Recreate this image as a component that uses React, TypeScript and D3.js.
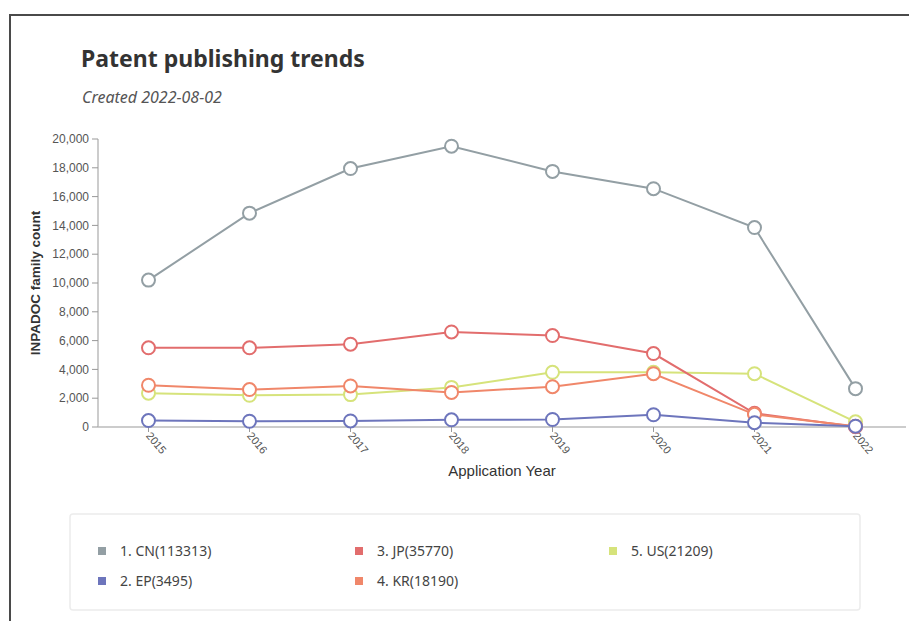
import React from "react";
import * as d3 from "d3";

const years = ["2015", "2016", "2017", "2018", "2019", "2020", "2021", "2022"];
const cnValues = [10200, 14850, 17950, 19500, 17750, 16550, 13850, 2663];
const epValues = [450, 400, 420, 500, 520, 850, 300, 55];
const jpValues = [5500, 5500, 5750, 6600, 6350, 5100, 950, 20];
const krValues = [2900, 2600, 2850, 2400, 2800, 3700, 880, 60];
const usValues = [2350, 2200, 2250, 2750, 3800, 3800, 3700, 359];
const seriesNames = ["CN", "EP", "JP", "KR", "US"];
const seriesLabels = ["1. CN(113313)", "2. EP(3495)", "3. JP(35770)", "4. KR(18190)", "5. US(21209)"];
const seriesColors = ["#939fa4", "#6d75bc", "#e26d6d", "#f0876a", "#d6e37b"];
const yTicks = [0, 2000, 4000, 6000, 8000, 10000, 12000, 14000, 16000, 18000, 20000];

const W = 909;
const H = 621;

export default function App() {
  const x = d3.scaleBand<string>().domain(years).range([98, 906]);
  const y = d3.scaleLinear().domain([0, 20000]).range([427, 139]);
  const cx = (yr: string) => (x(yr) as number) + x.bandwidth() / 2;
  const fmt = d3.format(",");
  const valuesByName: Record<string, number[]> = {
    CN: cnValues,
    EP: epValues,
    JP: jpValues,
    KR: krValues,
    US: usValues,
  };
  const drawOrder = ["CN", "US", "JP", "KR", "EP"];
  const line = d3
    .line<number>()
    .x((_, i) => cx(years[i]))
    .y((d) => y(d));

  const legendPos = [
    { x: 98, y: 551 },
    { x: 98, y: 581 },
    { x: 355, y: 551 },
    { x: 355, y: 581 },
    { x: 609, y: 551 },
  ];

  return (
    <svg
      width={W}
      height={H}
      style={{ position: "absolute", left: 0, top: 0, background: "#fff" }}
    >
      <rect x={0} y={0} width={W} height={H} fill="#fff" />
      <path d={`M10,${H} L10,15 L${W},15`} fill="none" stroke="#4a4a4a" strokeWidth={2} />

      <text
        x={81}
        y={67}
        fontFamily="'Noto Sans', sans-serif"
        fontWeight={700}
        fontSize={23}
        fill="#333"
      >
        Patent publishing trends
      </text>
      <text
        x={82}
        y={103}
        fontFamily="'Noto Sans', sans-serif"
        fontStyle="italic"
        fontSize={16}
        fill="#555"
      >
        Created 2022-08-02
      </text>

      {/* y axis */}
      <line x1={98} x2={98} y1={y(20000)} y2={y(0)} stroke="#999" strokeWidth={1} />
      {yTicks.map((t) => (
        <g key={t}>
          <line x1={92} x2={98} y1={y(t)} y2={y(t)} stroke="#999" />
          <text
            x={89}
            y={y(t)}
            dy="0.35em"
            textAnchor="end"
            fontFamily="'Liberation Sans', Arial, sans-serif"
            fontSize={12}
            fill="#555"
          >
            {fmt(t)}
          </text>
        </g>
      ))}
      <text
        transform={`translate(40,${(y(0) + y(20000)) / 2}) rotate(-90)`}
        textAnchor="middle"
        fontFamily="'Liberation Sans', Arial, sans-serif"
        fontWeight={700}
        fontSize={13.5}
        fill="#333"
      >
        INPADOC family count
      </text>

      {/* x axis */}
      <line x1={98} x2={906} y1={y(0)} y2={y(0)} stroke="#bbb" strokeWidth={1.5} />
      {years.map((yr) => (
        <g key={yr}>
          <line x1={cx(yr)} x2={cx(yr)} y1={y(0)} y2={y(0) + 5} stroke="#999" />
          <text
            transform={`translate(${cx(yr) - 3},${y(0) + 9}) rotate(50)`}
            fontFamily="'Liberation Sans', Arial, sans-serif"
            fontSize={11}
            fill="#555"
          >
            {yr}
          </text>
        </g>
      ))}
      <text
        x={502}
        y={476}
        textAnchor="middle"
        fontFamily="'Liberation Sans', Arial, sans-serif"
        fontSize={15}
        fill="#333"
      >
        Application Year
      </text>

      {/* series */}
      {drawOrder.map((name) => {
        const idx = seriesNames.indexOf(name);
        const vals = valuesByName[name];
        const color = seriesColors[idx];
        return (
          <g key={name}>
            <path d={line(vals) || ""} fill="none" stroke={color} strokeWidth={2} />
            {vals.map((v, i) => (
              <circle
                key={i}
                cx={cx(years[i])}
                cy={y(v)}
                r={6.5}
                fill="#fff"
                stroke={color}
                strokeWidth={2}
              />
            ))}
          </g>
        );
      })}

      {/* legend */}
      <rect
        x={70}
        y={514}
        width={790}
        height={96}
        rx={3}
        fill="#fff"
        stroke="#ececec"
        strokeWidth={1.5}
      />
      {seriesNames.map((name, i) => (
        <g key={name}>
          <rect
            x={legendPos[i].x}
            y={legendPos[i].y - 4}
            width={8}
            height={8}
            fill={seriesColors[i]}
          />
          <text
            x={legendPos[i].x + 22}
            y={legendPos[i].y}
            dy="0.35em"
            fontFamily="'Noto Sans', sans-serif"
            fontSize={14}
            fill="#444"
          >
            {seriesLabels[i]}
          </text>
        </g>
      ))}
    </svg>
  );
}
